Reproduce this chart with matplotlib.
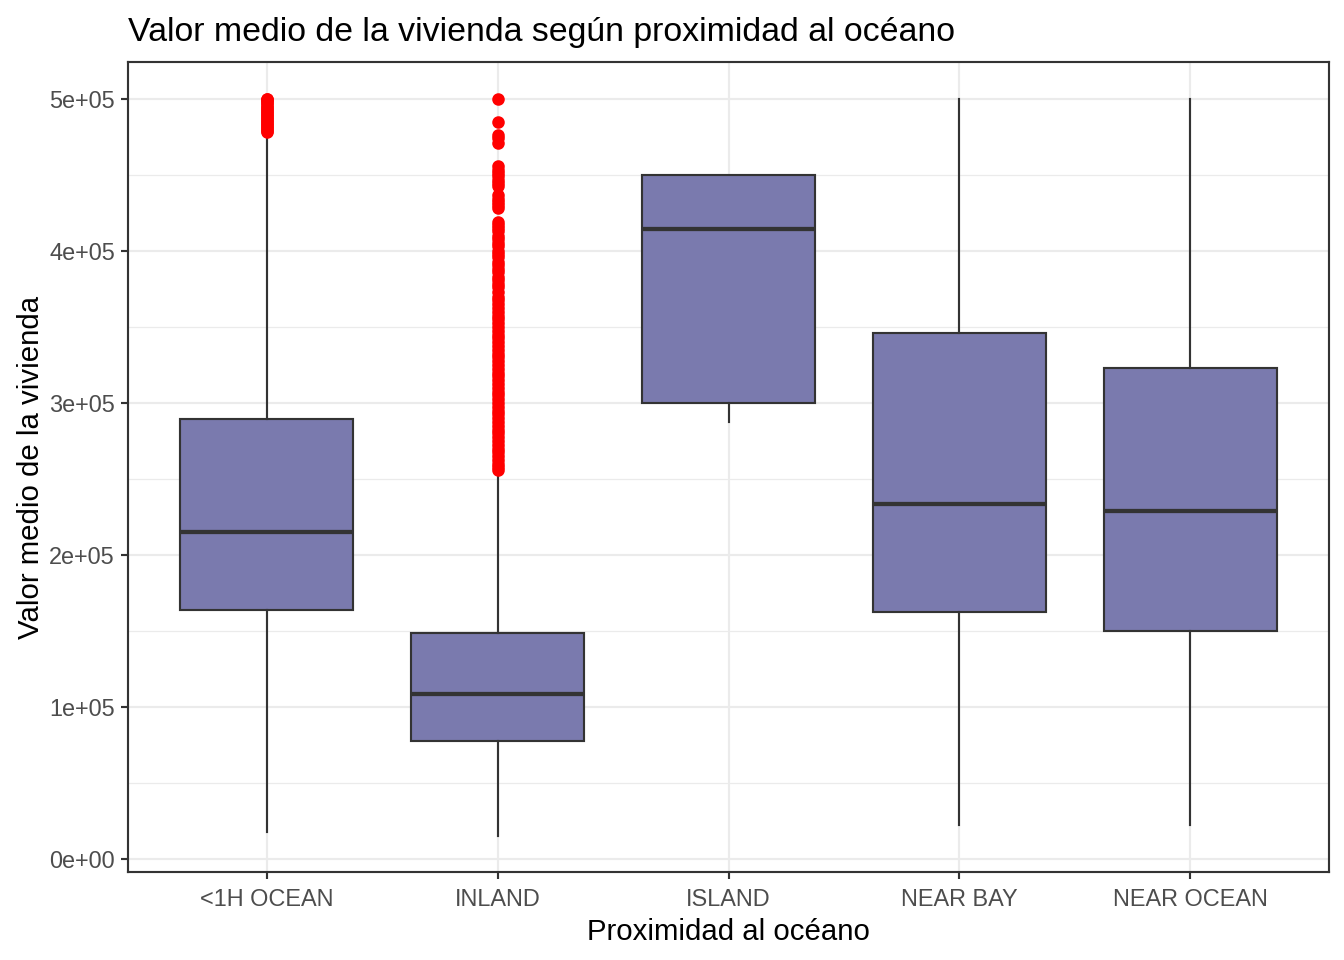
import matplotlib
matplotlib.use("Agg")
import matplotlib.pyplot as plt
from matplotlib.ticker import MultipleLocator

plt.rcParams["font.family"] = ["Liberation Sans", "DejaVu Sans"]

categories = ["<1H OCEAN", "INLAND", "ISLAND", "NEAR BAY", "NEAR OCEAN"]

# box stats
whislo = [17500, 15000, 287500, 22500, 22500]
q1 = [164000, 77600, 300000, 162500, 150000]
med = [215000, 108500, 414700, 233600, 229000]
q3 = [289500, 148700, 450000, 346000, 323000]
whishi = [477500, 255000, 450000, 500001, 500001]

out_1h = [478000, 479000, 480000, 481000, 482000, 483000, 484000, 485000,
          486000, 487000, 488000, 489000, 490000, 491000, 492000, 493000,
          494000, 495000, 496000, 497000, 498000, 499000, 500000, 500001]
out_inland = [256000, 258000, 260000, 262500, 265000, 267500, 270000, 272500,
              275000, 277500, 280000, 282500, 285000, 287500, 290000, 292500,
              295000, 297500, 300000, 302500, 305000, 307500, 310000, 312500,
              315000, 317500, 320000, 322500, 325000, 327500, 330000, 332500,
              335000, 337500, 340000, 342500, 345000, 347500, 350000, 352500,
              355000, 357500, 360000, 362500, 365000, 367500, 370000, 373000,
              376000, 378000, 381000, 383000, 386000, 388000, 391000, 393000,
              396000, 398000, 400000, 403000, 405000, 408000, 410000, 413000,
              415000, 417000, 419000, 428000, 430000, 432000, 434000, 437000,
              443000, 445000, 447000, 449000, 451000, 453000, 456000,
              471000, 474000, 476000, 485000, 500001]
outliers = [out_1h, out_inland, [], [], []]

stats = []
for i, name in enumerate(categories):
    stats.append(dict(label=name, whislo=whislo[i], q1=q1[i], med=med[i],
                      q3=q3[i], whishi=whishi[i], fliers=outliers[i]))

fig = plt.figure(figsize=(7, 5), dpi=192)
ax = fig.add_axes([128 / 1344, 88 / 960, 1201 / 1344, 810 / 960])

edge = "#333333"
ax.bxp(stats, positions=range(1, 6), widths=0.75, patch_artist=True,
       showcaps=False,
       boxprops=dict(facecolor="#7A7AAE", edgecolor=edge, linewidth=0.8),
       medianprops=dict(color=edge, linewidth=1.6, solid_capstyle="butt"),
       whiskerprops=dict(color=edge, linewidth=0.8),
       flierprops=dict(marker="o", markerfacecolor="red", markeredgecolor="red",
                       markersize=3.7, linestyle="none"))

ax.set_xlim(0.4, 5.6)
ax.set_ylim(-8550, 524300)
ax.set_yticks([0, 100000, 200000, 300000, 400000, 500000])
ax.set_yticklabels(["0e+00", "1e+05", "2e+05", "3e+05", "4e+05", "5e+05"])
ax.yaxis.set_minor_locator(MultipleLocator(50000))
ax.set_xticks(range(1, 6))
ax.set_xticklabels(categories)

ax.grid(which="major", color="#EBEBEB", linewidth=0.8)
ax.grid(which="minor", axis="y", color="#EBEBEB", linewidth=0.45)
ax.set_axisbelow(True)
for s in ax.spines.values():
    s.set_color(edge)
    s.set_linewidth(0.8)

ax.tick_params(axis="both", which="major", length=2.75, width=0.8, color=edge,
               labelsize=8.8, labelcolor="#4D4D4D", pad=2.2)
ax.tick_params(axis="x", which="major", pad=3.2)
ax.tick_params(axis="y", which="minor", length=0)

ax.set_xlabel("Proximidad al océano", fontsize=11, color="black", labelpad=2.5)
ax.set_ylabel("Valor medio de la vivienda", fontsize=11, color="black", labelpad=1.5)
ax.set_title("Valor medio de la vivienda según proximidad al océano",
             fontsize=12.7, loc="left", pad=8)

fig.savefig("out.png", dpi=192)
